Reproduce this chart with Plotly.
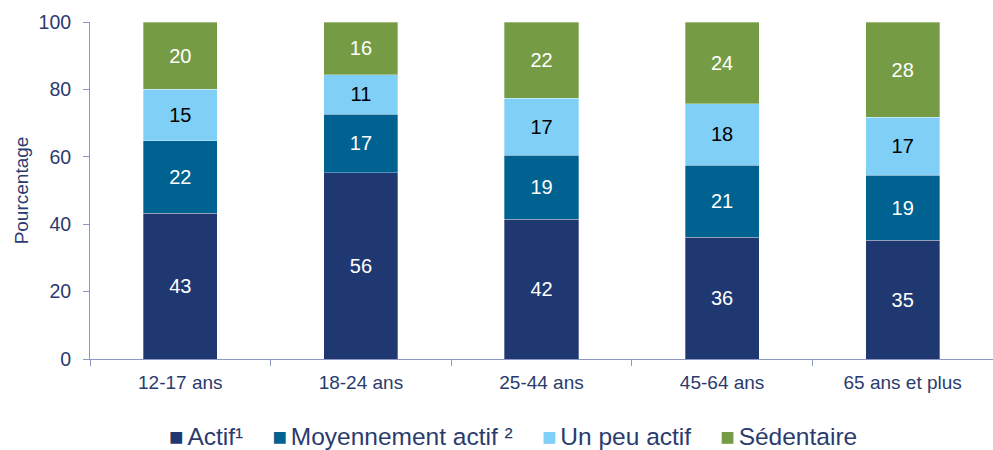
import plotly.graph_objects as go

categories = ["12-17 ans", "18-24 ans", "25-44 ans", "45-64 ans", "65 ans et plus"]

actif = [43.2, 55.3, 41.5, 36.1, 35.2]
moyen = [21.6, 17.4, 18.9, 21.4, 19.3]
peu = [15.3, 11.6, 17.0, 18.3, 17.3]
sedentaire = [19.9, 15.7, 22.6, 24.2, 28.2]

actif_lbl = ["43", "56", "42", "36", "35"]
moyen_lbl = ["22", "17", "19", "21", "19"]
peu_lbl = ["15", "11", "17", "18", "17"]
sedentaire_lbl = ["20", "16", "22", "24", "28"]

series_names = ["Actif¹", "Moyennement actif ²", "Un peu actif", "Sédentaire"]
colors = ["#1F3871", "#006290", "#7FCFF7", "#769B45"]
text_colors = ["white", "white", "black", "white"]

FONT = "Liberation Sans, Arial, sans-serif"
NAVY = "#2B3B6E"
AXIS = "#8D97C0"

fig = go.Figure()
for name, vals, lbls, col, tc in zip(series_names,
                                    [actif, moyen, peu, sedentaire],
                                    [actif_lbl, moyen_lbl, peu_lbl, sedentaire_lbl],
                                    colors, text_colors):
    fig.add_trace(go.Bar(
        x=categories, y=vals, name=name,
        marker=dict(color=col, line=dict(color="rgba(255,255,255,0.45)", width=0.7)),
        text=lbls, textposition="inside", insidetextanchor="middle",
        textangle=0, textfont=dict(size=20, color=tc, family=FONT),
        hoverinfo="skip", showlegend=False,
    ))

# legend drawn as a single text line with coloured squares
gap = "<span style='font-size:21px'>" + "&nbsp;" * 5 + "</span>"
legend_text = gap.join(
    f"<span style='color:{c};font-size:24px'>■</span>"
    f"<span style='font-size:14px'>&nbsp;</span>{n}"
    for n, c in zip(series_names, colors)
)
fig.add_annotation(
    text=legend_text, xref="paper", yref="paper",
    x=0.468, xanchor="center", y=-0.23, yanchor="middle",
    showarrow=False, font=dict(size=24.5, color=NAVY, family=FONT),
)

fig.update_layout(
    barmode="stack",
    bargap=0.59,
    width=993, height=450,
    margin=dict(l=90, r=0, t=22, b=90.5),
    paper_bgcolor="white", plot_bgcolor="white",
    font=dict(family=FONT, size=19.5, color=NAVY),
    showlegend=False,
)
fig.update_xaxes(
    showline=True, linecolor=AXIS, linewidth=1,
    ticks="outside", tickson="boundaries", ticklen=6, tickcolor=AXIS,
    showgrid=False, tickfont=dict(size=19, color=NAVY),
    ticklabelstandoff=6,
    range=[-0.5, 4.5], automargin=False,
)
fig.update_yaxes(
    range=[0, 100], dtick=20,
    showline=True, linecolor=AXIS, linewidth=1,
    ticks="outside", ticklen=6, tickcolor=AXIS,
    showgrid=False, zeroline=False,
    tickfont=dict(size=19.5, color=NAVY),
    ticklabelstandoff=8,
    title=dict(text="Pourcentage", font=dict(size=19, color=NAVY), standoff=4),
    automargin=False,
)

fig.write_html("out.html", config={"displayModeBar": False},
               post_script="document.body.style.margin='0';")
